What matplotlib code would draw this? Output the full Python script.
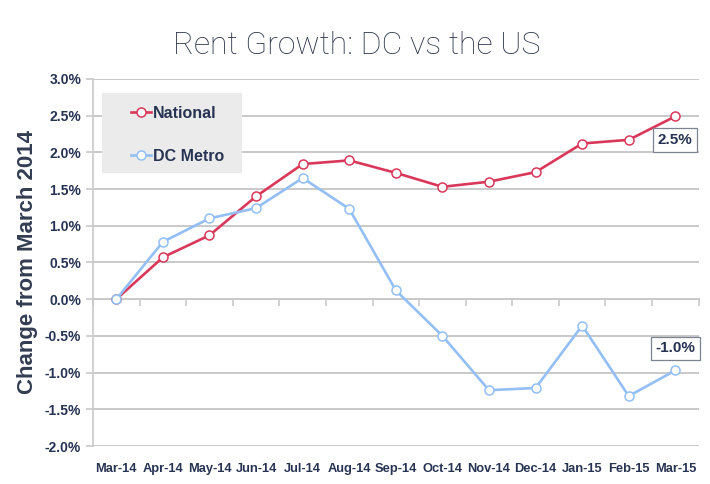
import numpy as np
import matplotlib
matplotlib.use("Agg")
import matplotlib.pyplot as plt
from matplotlib.patches import Rectangle
from matplotlib.ticker import FuncFormatter, FixedLocator

# ── DATA ────────────────────────────────────────────────────────────────────
months = ["Mar-14", "Apr-14", "May-14", "Jun-14", "Jul-14", "Aug-14", "Sep-14",
          "Oct-14", "Nov-14", "Dec-14", "Jan-15", "Feb-15", "Mar-15"]
national = [0.00, 0.57, 0.87, 1.40, 1.84, 1.89, 1.72, 1.53, 1.60, 1.73, 2.12, 2.17, 2.49]
dc_metro = [0.00, 0.78, 1.10, 1.24, 1.65, 1.23, 0.12, -0.50, -1.24, -1.21, -0.36, -1.32, -0.97]
y_ticks = [-2.0, -1.5, -1.0, -0.5, 0.0, 0.5, 1.0, 1.5, 2.0, 2.5, 3.0]
# ────────────────────────────────────────────────────────────────────────────

RED = "#d9385a"
BLUE = "#93bff5"
NAVY = "#263352"
GRID = "#c9c9c9"

plt.rcParams["font.family"] = ["Liberation Sans", "DejaVu Sans"]

fig = plt.figure(figsize=(7.1, 4.84), dpi=100)
ax = fig.add_axes([0.131, 0.0785, 0.853, 0.7585])

x = np.arange(len(months))
ax.plot(x, national, color=RED, lw=1.9, marker="o", ms=6.5,
        mfc="white", mec=RED, mew=1.1, label="National", zorder=3)
ax.plot(x, dc_metro, color=BLUE, lw=1.9, marker="o", ms=6.5,
        mfc="white", mec=BLUE, mew=1.1, label="DC Metro", zorder=3)

ax.set_xlim(-0.5, len(months) - 0.5)
ax.set_ylim(y_ticks[0], y_ticks[-1])
ax.set_yticks(y_ticks)
ax.yaxis.set_major_formatter(FuncFormatter(lambda v, p: f"{v:.1f}%"))
ax.grid(axis="y", color=GRID, lw=1.4)
ax.set_axisbelow(True)

ax.set_xticks(x)
ax.set_xticklabels(months)
ax.tick_params(axis="x", length=0, pad=12, labelsize=9.3, labelcolor=NAVY)
ax.tick_params(axis="y", length=5, color=GRID, width=1.2, labelsize=10, labelcolor=NAVY)
for lbl in ax.get_xticklabels() + ax.get_yticklabels():
    lbl.set_fontweight("bold")

for side in ["top", "right", "bottom"]:
    ax.spines[side].set_visible(False)
ax.spines["left"].set_color(GRID)
ax.spines["left"].set_linewidth(1.2)

# zero line with category boundary ticks
zero_frac = (0 - y_ticks[0]) / (y_ticks[-1] - y_ticks[0])
sec = ax.secondary_xaxis(zero_frac)
sec.xaxis.set_major_locator(FixedLocator(np.arange(-0.5, len(months), 1.0)))
sec.tick_params(length=5, color=GRID, width=1.2, labelbottom=False)
sec.spines["bottom"].set_color(GRID)
sec.spines["bottom"].set_linewidth(1.4)

ax.set_ylabel("Change from March 2014", fontsize=16, fontweight="bold",
              color="#333d52", labelpad=5)

# legend: grey box + frameless legend
ax.add_patch(Rectangle((0.015, 0.744), 0.231, 0.218, transform=ax.transAxes,
                       facecolor="#ebebeb", edgecolor="none", zorder=2))
leg = ax.legend(loc="upper left", bbox_to_anchor=(0.062, 0.927), frameon=False,
                handlelength=1.3, handletextpad=0.1, labelspacing=1.75,
                borderpad=0, fontsize=11.5, borderaxespad=0)
leg.set_zorder(5)
for t in leg.get_texts():
    t.set_color(NAVY)
    t.set_fontweight("bold")

box = dict(boxstyle="square,pad=0.3", fc="white", ec="#7d8391", lw=0.9)
ax.annotate(f"{national[-1]:.1f}%", (x[-1], national[-1]), xytext=(0, -17),
            textcoords="offset points", ha="center", va="center",
            fontsize=11, fontweight="bold", color=NAVY, bbox=box, zorder=4)
ax.annotate(f"{dc_metro[-1]:.1f}%", (x[-1], dc_metro[-1]), xytext=(0, 16),
            textcoords="offset points", ha="center", va="center",
            fontsize=11, fontweight="bold", color=NAVY, bbox=box, zorder=4)

fig.text(0.502, 0.905, "Rent Growth: DC vs the US", ha="center", va="center",
         fontsize=23, color="#2a3348", family=["Roboto", "DejaVu Sans"],
         fontweight="light")

fig.savefig("out.png", dpi=100)
